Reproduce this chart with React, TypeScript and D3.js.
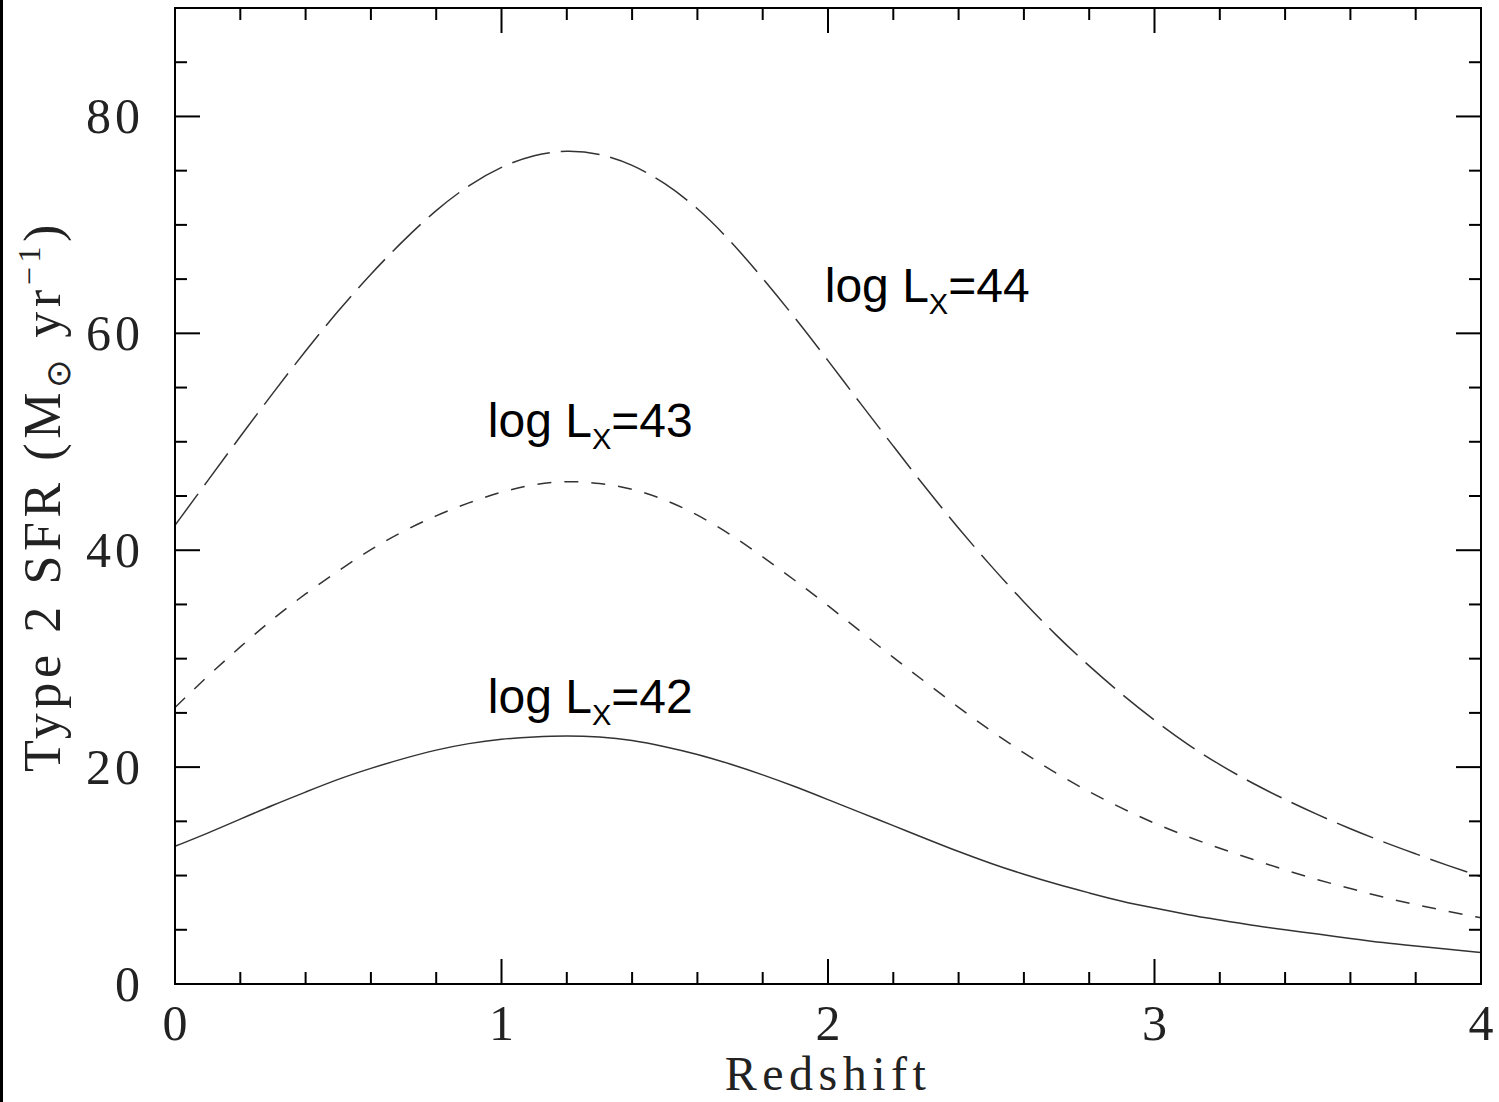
import React from "react";
import * as d3 from "d3";

const redshift = [0.0,0.1,0.2,0.3,0.4,0.5,0.6,0.7,0.8,0.9,1.0,1.1,1.2,1.3,1.4,1.5,1.6,1.7,1.8,1.9,2.0,2.1,2.2,2.3,2.4,2.5,2.6,2.7,2.8,2.9,3.0,3.1,3.2,3.3,3.4,3.5,3.6,3.7,3.8,3.9,4.0];
const sfrLx44 = [42.3,46.4,50.5,54.5,58.4,62.1,65.5,68.6,71.4,73.7,75.4,76.5,76.9,76.6,75.6,73.9,71.6,68.6,65.1,61.4,57.5,53.5,49.6,45.7,42.0,38.5,35.2,32.1,29.3,26.7,24.3,22.1,20.2,18.5,17.0,15.6,14.3,13.1,12.0,10.9,9.9];
const sfrLx43 = [25.5,28.4,31.1,33.7,36.0,38.1,40.1,41.8,43.2,44.4,45.4,46.1,46.4,46.2,45.7,44.7,43.3,41.5,39.4,37.2,34.9,32.5,30.1,27.8,25.5,23.3,21.3,19.4,17.7,16.2,14.8,13.6,12.5,11.5,10.5,9.6,8.8,8.0,7.3,6.7,6.1];
const sfrLx42 = [12.7,13.9,15.2,16.5,17.7,18.9,19.9,20.8,21.6,22.2,22.6,22.8,22.9,22.8,22.5,21.9,21.2,20.3,19.3,18.2,17.0,15.8,14.6,13.4,12.2,11.1,10.1,9.2,8.4,7.6,7.0,6.4,5.9,5.4,5.0,4.6,4.2,3.8,3.5,3.2,2.9];

const xMajorTicks = [0, 1, 2, 3, 4];
const xMinorTicks = [0.2,0.4,0.6,0.8,1.2,1.4,1.6,1.8,2.2,2.4,2.6,2.8,3.2,3.4,3.6,3.8];
const yMajorTicks = [0, 20, 40, 60, 80];
const yMinorTicks = [5,10,15,25,30,35,45,50,55,65,70,75,85];

const series = [
  { name: "log Lx=44", values: sfrLx44, dash: "39,11", label: "44", lx: 1.99, ly: 62.9 },
  { name: "log Lx=43", values: sfrLx43, dash: "14,13", label: "43", lx: 0.958, ly: 50.4 },
  { name: "log Lx=42", values: sfrLx42, dash: null, label: "42", lx: 0.958, ly: 25.0 },
];

export default function App() {
  const W = 1499, H = 1102;
  const left = 175, right = 1481, top = 8, bottom = 984;
  const x = d3.scaleLinear().domain([0, 4]).range([left, right]);
  const y = d3.scaleLinear().domain([0, 90]).range([bottom, top]);
  const line = d3
    .line<number>()
    .x((_, i) => x(redshift[i]))
    .y((d) => y(d))
    .curve(d3.curveBasis);

  const majorLen = 25, minorLen = 12;
  const tickStyle = { stroke: "#000", strokeWidth: 2 };
  const serif = "'Liberation Serif', 'Times New Roman', serif";
  const sans = "'Liberation Sans', Arial, sans-serif";

  return (
    <svg width={W} height={H} style={{ position: "absolute", left: 0, top: 0, background: "#fff" }}>
      <rect x={0} y={0} width={W} height={H} fill="#fff" />
      <rect x={0} y={0} width={3} height={H} fill="#000" />

      {/* curves */}
      <g fill="none" stroke="#333" strokeWidth={1.5}>
        {series.map((s) => (
          <path key={s.name} d={line(s.values) || ""} strokeDasharray={s.dash || undefined} />
        ))}
      </g>

      {/* frame */}
      <rect x={left} y={top} width={right - left} height={bottom - top} fill="none" stroke="#000" strokeWidth={2} />

      {/* x ticks */}
      {xMajorTicks.map((t) => (
        <g key={"xM" + t}>
          <line x1={x(t)} x2={x(t)} y1={bottom} y2={bottom - majorLen} {...tickStyle} />
          <line x1={x(t)} x2={x(t)} y1={top} y2={top + majorLen} {...tickStyle} />
          <text x={x(t)} y={1040} textAnchor="middle" fontFamily={serif} fontSize={50} fill="#222">
            {t}
          </text>
        </g>
      ))}
      {xMinorTicks.map((t) => (
        <g key={"xm" + t}>
          <line x1={x(t)} x2={x(t)} y1={bottom} y2={bottom - minorLen} {...tickStyle} />
          <line x1={x(t)} x2={x(t)} y1={top} y2={top + minorLen} {...tickStyle} />
        </g>
      ))}

      {/* y ticks */}
      {yMajorTicks.map((t) => (
        <g key={"yM" + t}>
          <line x1={left} x2={left + majorLen} y1={y(t)} y2={y(t)} {...tickStyle} />
          <line x1={right} x2={right - majorLen} y1={y(t)} y2={y(t)} {...tickStyle} />
          <text x={144} y={y(t) + 17} textAnchor="end" fontFamily={serif} fontSize={50} letterSpacing={4} fill="#222">
            {t}
          </text>
        </g>
      ))}
      {yMinorTicks.map((t) => (
        <g key={"ym" + t}>
          <line x1={left} x2={left + minorLen} y1={y(t)} y2={y(t)} {...tickStyle} />
          <line x1={right} x2={right - minorLen} y1={y(t)} y2={y(t)} {...tickStyle} />
        </g>
      ))}

      {/* axis titles */}
      <text x={x(2)} y={1090} textAnchor="middle" fontFamily={serif} fontSize={48} letterSpacing={5.5} fill="#222">
        Redshift
      </text>
      <text
        transform={`translate(60, ${(top + bottom) / 2}) rotate(-90)`}
        textAnchor="middle"
        fontFamily={serif}
        fontSize={52}
        letterSpacing={4.6}
        fill="#222"
      >
        <tspan>Type 2 SFR (M</tspan>
        <tspan fontSize={34} dy={10}>⊙</tspan>
        <tspan dy={-10}> yr</tspan>
        <tspan fontSize={32} dy={-20}>−1</tspan>
        <tspan dy={20}>)</tspan>
      </text>

      {/* annotations */}
      {series.map((s) => (
        <text key={"lab" + s.name} x={x(s.lx)} y={y(s.ly)} fontFamily={sans} fontSize={48} fill="#000">
          <tspan>log L</tspan>
          <tspan fontSize={29} dy={12}>X</tspan>
          <tspan dy={-12}>={s.label}</tspan>
        </text>
      ))}
    </svg>
  );
}
